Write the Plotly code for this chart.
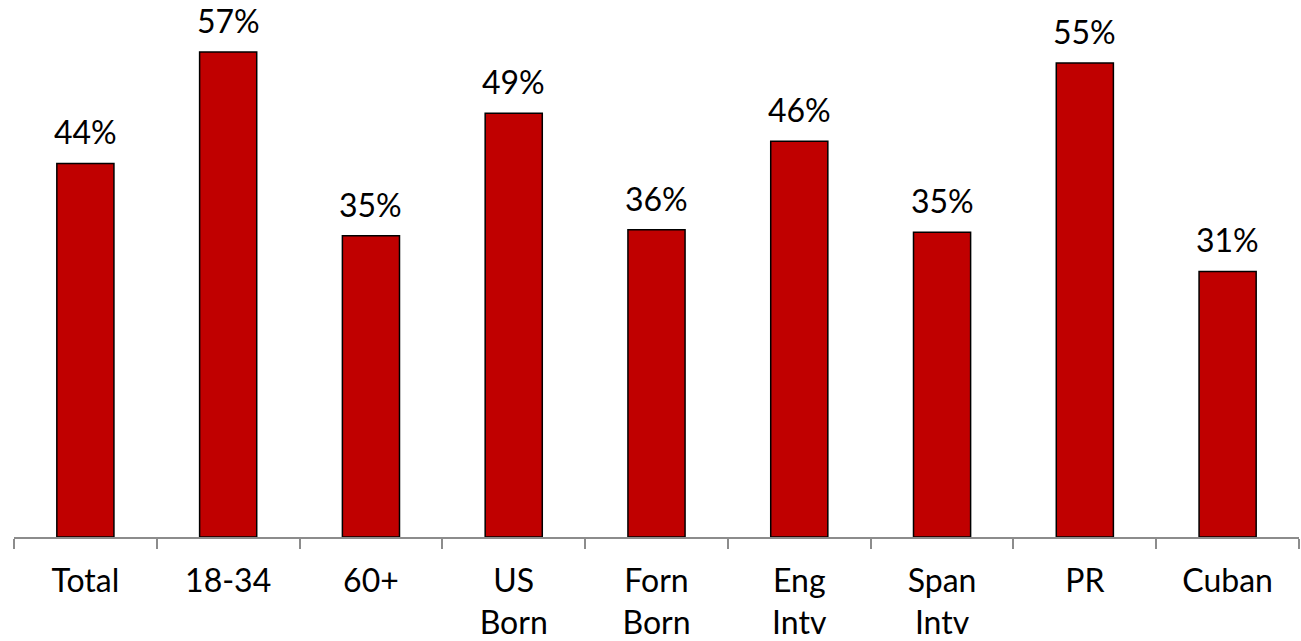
import plotly.graph_objects as go

categories = ["Total", "18-34", "60+", "US<br>Born", "Forn<br>Born",
              "Eng<br>Intv", "Span<br>Intv", "PR", "Cuban"]
values = [43.9, 57.0, 35.4, 49.8, 36.1, 46.5, 35.8, 55.7, 31.2]
labels = ["44%", "57%", "35%", "49%", "36%", "46%", "35%", "55%", "31%"]

font_family = "Lato, 'Open Sans', sans-serif"

fig = go.Figure()
fig.add_trace(go.Bar(
    x=categories,
    y=values,
    width=0.4,
    marker=dict(color="#C00000", line=dict(color="black", width=1.5)),
    hoverinfo="skip",
))

for cat, val, lab in zip(categories, values, labels):
    fig.add_annotation(
        x=cat, y=val, text=lab, showarrow=False,
        yanchor="bottom", yshift=10,
        font=dict(family=font_family, size=32, color="black"),
    )

fig.update_layout(
    width=1301, height=641,
    margin=dict(l=14, r=2, t=0, b=95),
    plot_bgcolor="white", paper_bgcolor="white",
    showlegend=False,
    bargap=0.6,
    font=dict(family=font_family, size=32, color="black"),
    xaxis=dict(
        showline=True, linecolor="#8c8c8c", linewidth=2,
        ticks="outside", tickson="boundaries", ticklen=10,
        tickcolor="#8c8c8c", tickwidth=2,
        ticklabelstandoff=15,
        showgrid=False, zeroline=False,
        tickfont=dict(family=font_family, size=32, color="black"),
        fixedrange=True,
    ),
    yaxis=dict(visible=False, range=[0, 63.1], fixedrange=True),
)

# the page body has an 8px default margin; remove it so the figure sits at 0,0
fig.write_html("out.html", config={"displayModeBar": False},
               post_script="document.body.style.margin='0';")
